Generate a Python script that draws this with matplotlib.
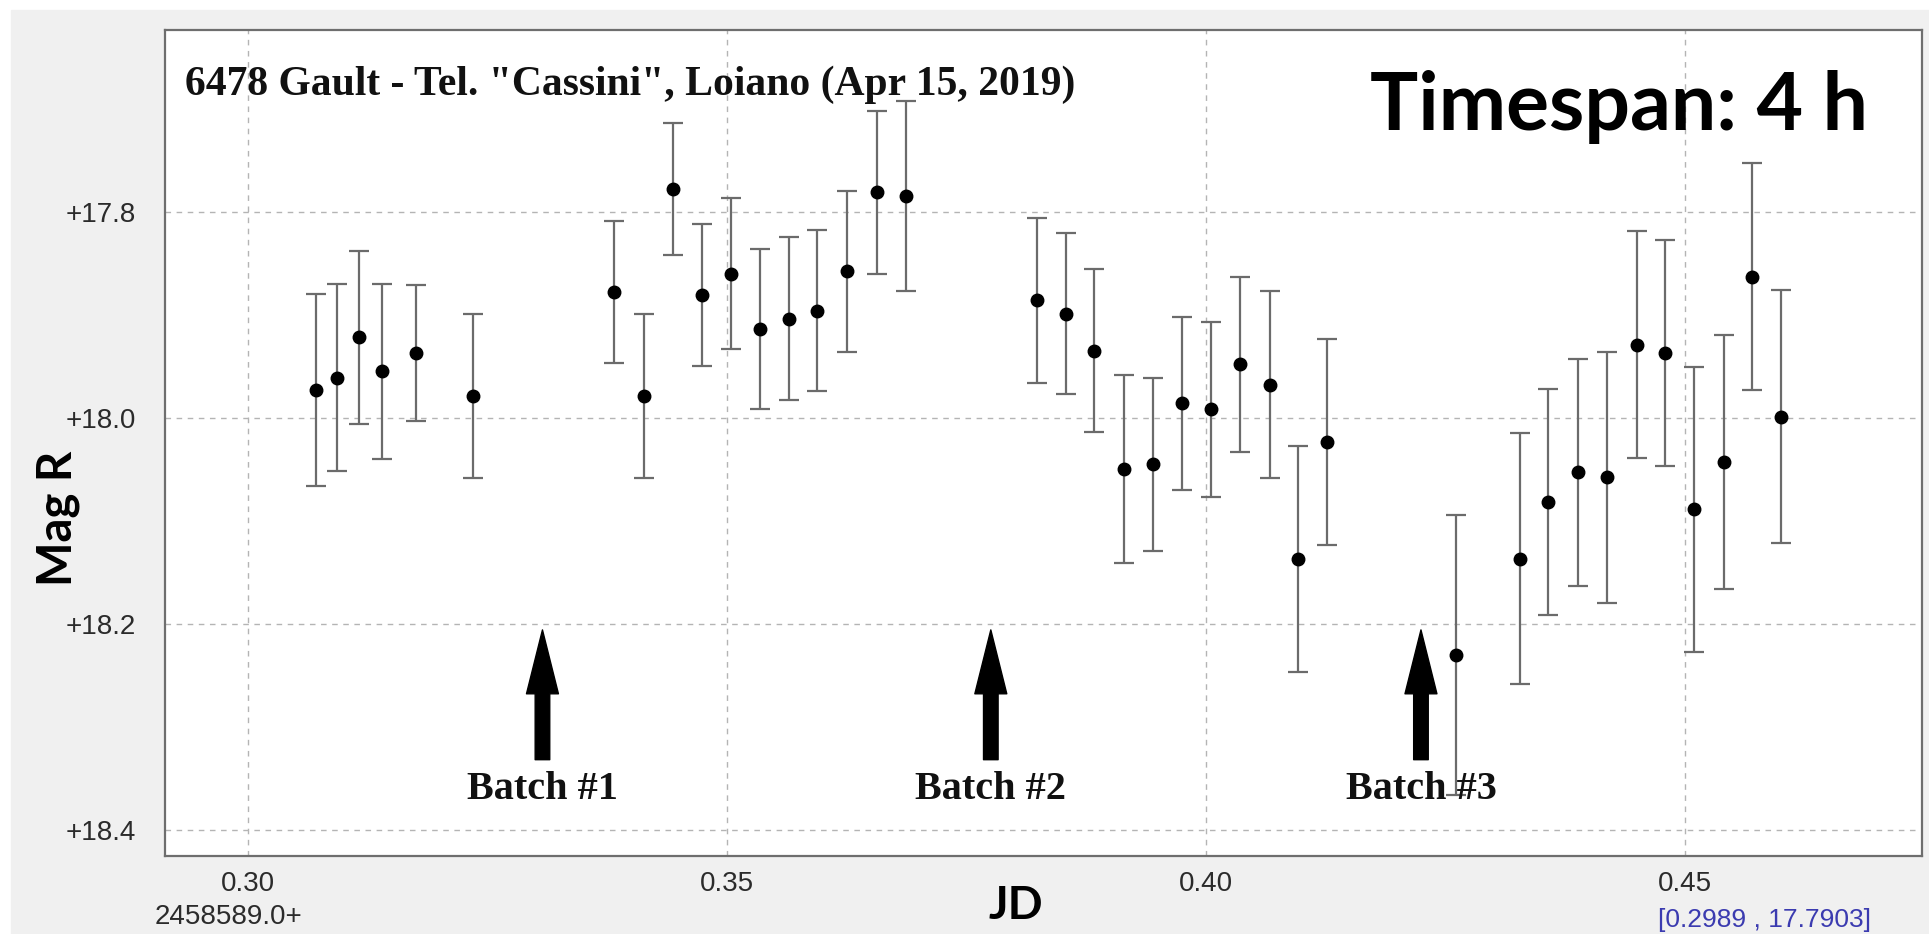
import matplotlib
matplotlib.use("Agg")
import matplotlib.pyplot as plt
from matplotlib.patches import Rectangle

# photometry of 6478 Gault, JD - 2458589.0
jd = [0.3071, 0.3093, 0.3115, 0.3140, 0.3175, 0.3234,
      0.3382, 0.3413, 0.3443, 0.3474, 0.3504, 0.3534, 0.3564, 0.3594, 0.3625, 0.3656, 0.3686,
      0.3823, 0.3854, 0.3883, 0.3914, 0.3944, 0.3975, 0.4005, 0.4035, 0.4066, 0.4096, 0.4126,
      0.4261, 0.4327, 0.4357, 0.4388, 0.4418, 0.4449, 0.4479, 0.4509, 0.4540, 0.4570, 0.4600]
mag = [17.973, 17.961, 17.922, 17.955, 17.937, 17.979,
       17.878, 17.979, 17.778, 17.881, 17.860, 17.914, 17.904, 17.896, 17.858, 17.781, 17.785,
       17.886, 17.899, 17.935, 18.050, 18.045, 17.986, 17.992, 17.948, 17.968, 18.137, 18.024,
       18.230, 18.137, 18.082, 18.053, 18.058, 17.929, 17.937, 18.089, 18.043, 17.863, 17.999]
err = [0.093, 0.091, 0.084, 0.085, 0.066, 0.080,
       0.069, 0.080, 0.064, 0.069, 0.073, 0.078, 0.079, 0.078, 0.078, 0.079, 0.092,
       0.080, 0.078, 0.079, 0.091, 0.084, 0.084, 0.085, 0.085, 0.091, 0.110, 0.100,
       0.136, 0.122, 0.110, 0.110, 0.122, 0.110, 0.110, 0.138, 0.123, 0.110, 0.123]

batch_jd = [0.3307, 0.3775, 0.4224]
batch_labels = ["Batch #1", "Batch #2", "Batch #3"]

xticks = [0.30, 0.35, 0.40, 0.45]
xtick_labels = ["0.30", "0.35", "0.40", "0.45"]
yticks = [17.8, 18.0, 18.2, 18.4]
ytick_labels = ["+17.8", "+18.0", "+18.2", "+18.4"]

W, H = 1929, 934
fig = plt.figure(figsize=(W / 100, H / 100), dpi=100, facecolor="white")

# grey panel behind the plot
fig.add_artist(Rectangle((11 / W, 0), 1 - 11 / W, (H - 10) / H,
                         transform=fig.transFigure, color="#f0f0f0", zorder=0))

ax = fig.add_axes([165 / W, (H - 856) / H, (1922 - 165) / W, (856 - 30) / H])
ax.set_facecolor("white")
ax.set_xlim(0.2913, 0.4747)
ax.set_ylim(18.4255, 17.6236)

tickfont = dict(family=["Liberation Sans Narrow", "Liberation Sans"], size=20, color="#2b2b2b")
ax.set_xticks(xticks)
ax.set_xticklabels(xtick_labels, **tickfont)
ax.set_yticks(yticks)
ax.set_yticklabels(ytick_labels, **tickfont)
ax.tick_params(axis="x", length=0, pad=11)
ax.tick_params(axis="y", length=0, pad=21)
ax.grid(True, color="#b4b4b4", linestyle=(0, (4, 4)), linewidth=1.0)
ax.set_axisbelow(True)
for s in ax.spines.values():
    s.set_color("#6e6e6e")
    s.set_linewidth(1.6)

ax.errorbar(jd, mag, yerr=err, fmt="o", color="black", ms=9,
            ecolor="#6b6b6b", elinewidth=1.6, capsize=7, capthick=1.6, zorder=3)

for x, label in zip(batch_jd, batch_labels):
    ax.annotate("", xy=(x, 18.206), xytext=(x, 18.332),
                arrowprops=dict(facecolor="black", edgecolor="black", width=10.5,
                                headwidth=23, headlength=46, shrink=0))
    ax.text(x, 18.37, label, ha="center", va="baseline", fontsize=29,
            family="Liberation Serif", fontweight="bold", color="#111111")

ax.text(0.0114, 0.921, '6478 Gault - Tel. "Cassini", Loiano (Apr 15, 2019)',
        transform=ax.transAxes, ha="left", va="baseline", fontsize=30,
        family="Liberation Serif", fontweight="bold", color="#111111")
ax.text(0.9693, 0.879, "Timespan: 4 h", transform=ax.transAxes, ha="right",
        va="baseline", fontsize=58, family="Lato", fontweight="bold", color="black")

fig.text(58 / W, 1 - 518 / H, "Mag R", rotation=90, ha="center", va="center",
         fontsize=34, family="Lato", fontweight="bold")
fig.text(1016 / W, 1 - 906 / H, "JD", ha="center", va="center",
         fontsize=33, family="Lato", fontweight="bold")
fig.text(228 / W, 1 - 917 / H, "2458589.0+", ha="center", va="center", **tickfont)
fig.text(1658 / W, 1 - 920 / H, "[0.2989 , 17.7903]", ha="left", va="center",
         family=["Liberation Sans Narrow", "Liberation Sans"], size=19, color="#3b3bb0")

fig.savefig("out.png", dpi=100, facecolor=fig.get_facecolor())
